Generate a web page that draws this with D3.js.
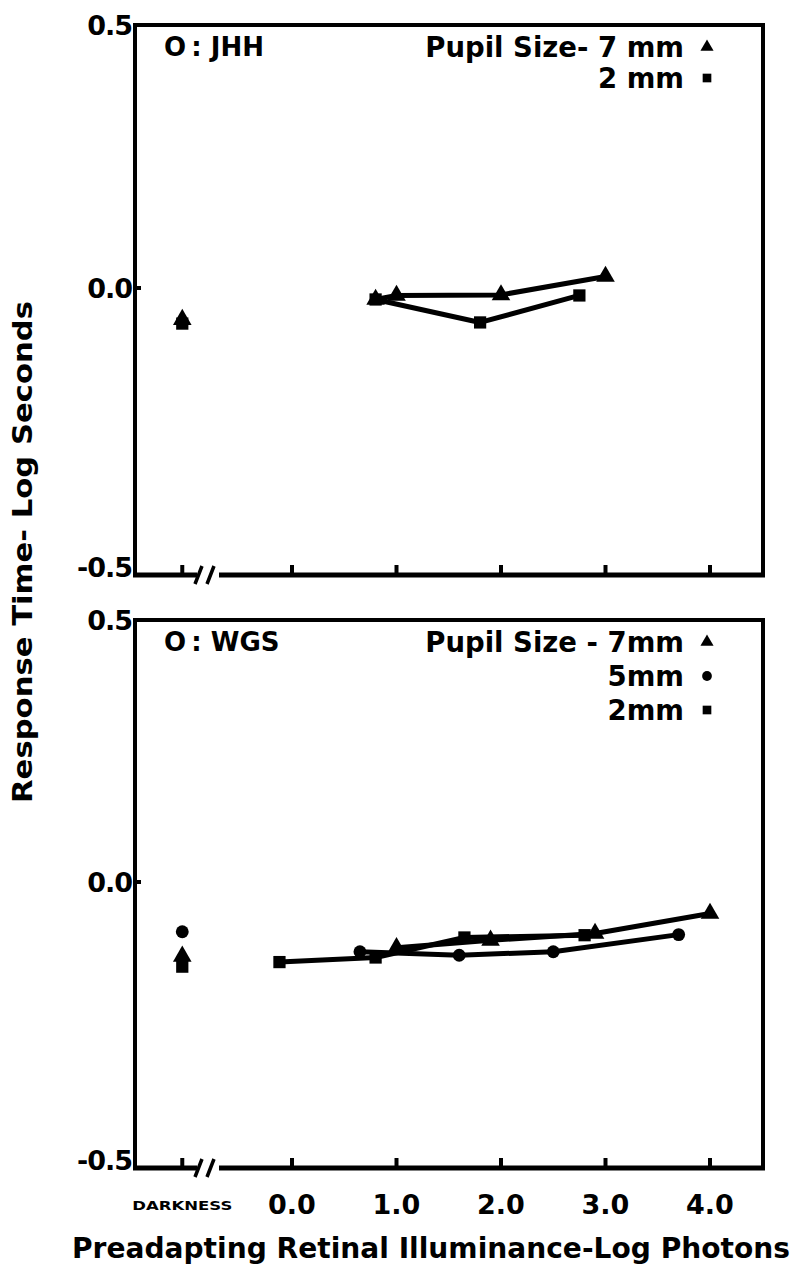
<!DOCTYPE html>
<html>
<head>
<meta charset="utf-8">
<script src="https://cdn.jsdelivr.net/npm/d3@7"></script>
<style>
  body { margin: 0; background: #fff; }
  text { font-family: "DejaVu Sans", sans-serif; font-weight: 700; fill: #000; }
</style>
</head>
<body>
<script>
// x values: log photons, darkness drawn left of the break
let darkness = -1.05;
let xTicks = [0, 1, 2, 3, 4];
let xTickLabels = ['0.0', '1.0', '2.0', '3.0', '4.0'];
let yTicks = [-0.5, 0, 0.5];
let yTickLabels = ['-0.5', '0.0', '0.5'];

// O: JHH
let jhh7x = [0.8, 1.0, 2.0, 3.0];
let jhh7y = [-0.02, -0.013, -0.012, 0.022];
let jhh7dark = -0.055;
let jhh2x = [0.8, 1.8, 2.75];
let jhh2y = [-0.02, -0.06, -0.013];
let jhh2dark = -0.062;

// O: WGS
let wgs7x = [1.0, 1.9, 2.9, 4.0];
let wgs7y = [-0.115, -0.102, -0.09, -0.055];
let wgs7dark = -0.13;
let wgs5x = [0.65, 1.6, 2.5, 3.7];
let wgs5y = [-0.122, -0.128, -0.122, -0.092];
let wgs5dark = -0.087;
let wgs2x = [-0.12, 0.8, 1.65, 2.8];
let wgs2y = [-0.14, -0.132, -0.097, -0.093];
let wgs2dark = -0.148;

let width = 795, height = 1268;
let left = 135, right = 763;

let svg = d3.select('body').append('svg')
    .attr('width', width)
    .attr('height', height);

let x = d3.scaleLinear().domain([0, 4]).range([292, 710]);

let panels = [
    {
        top: 25, zero: 288, bottom: 575, name: 'O\u2009: JHH',
        legend: [['Pupil Size- 7 mm', 'triangle'], ['2 mm', 'square']],
        series: [
            {xs: jhh7x, ys: jhh7y, dark: jhh7dark, shape: 'triangle'},
            {xs: jhh2x, ys: jhh2y, dark: jhh2dark, shape: 'square'}
        ]
    },
    {
        top: 620, zero: 882, bottom: 1168, name: 'O\u2009: WGS',
        legend: [['Pupil Size - 7mm', 'triangle'], ['5mm', 'circle'], ['2mm', 'square']],
        series: [
            {xs: wgs7x, ys: wgs7y, dark: wgs7dark, shape: 'triangle'},
            {xs: wgs5x, ys: wgs5y, dark: wgs5dark, shape: 'circle'},
            {xs: wgs2x, ys: wgs2y, dark: wgs2dark, shape: 'square'}
        ]
    }
];

let sizes = {triangle: 150, circle: 130, square: 150};
function sym(shape, size) {
    let t = {triangle: d3.symbolTriangle, circle: d3.symbolCircle, square: d3.symbolSquare}[shape];
    return d3.symbol().type(t).size(size)();
}

panels.forEach(p => {
    let y = d3.scaleLinear().domain([-0.5, 0, 0.5]).range([p.bottom, p.zero, p.top]);
    let g = svg.append('g');

    // frame: left, top, right
    g.append('path')
        .attr('d', `M${left},${p.bottom} V${p.top} H${right} V${p.bottom}`)
        .attr('fill', 'none').attr('stroke', '#000').attr('stroke-width', 4);

    // bottom axis with break
    g.append('path')
        .attr('d', `M${left - 2},${p.bottom} H${197} M${219},${p.bottom} H${right + 2}`)
        .attr('fill', 'none').attr('stroke', '#000').attr('stroke-width', 5);
    g.append('path')
        .attr('d', `M${195},${p.bottom + 9} L${202},${p.bottom - 9} M${207},${p.bottom + 9} L${214},${p.bottom - 9}`)
        .attr('fill', 'none').attr('stroke', '#000').attr('stroke-width', 3.5);

    // ticks
    g.selectAll('.xtick').data([darkness].concat(xTicks)).enter().append('line')
        .attr('x1', d => x(d)).attr('x2', d => x(d))
        .attr('y1', p.bottom).attr('y2', p.bottom - 10)
        .attr('stroke', '#000').attr('stroke-width', 4);
    g.append('line')
        .attr('x1', left).attr('x2', left + 6)
        .attr('y1', y(0)).attr('y2', y(0))
        .attr('stroke', '#000').attr('stroke-width', 4);

    // y tick labels
    g.selectAll('.ylab').data(yTicks).enter().append('text')
        .attr('x', left - 3)
        .attr('y', d => d === -0.5 ? y(d) - 8 : y(d))
        .attr('dy', '0.36em')
        .attr('text-anchor', 'end')
        .style('font-size', '27px')
        .style('letter-spacing', '-1px')
        .text((d, i) => yTickLabels[i]);

    // observer label
    g.append('text').attr('x', 164).attr('y', p.top + 31)
        .style('font-size', '26px').text(p.name);

    // legend
    p.legend.forEach((l, i) => {
        let ly = p.top + 22 + i * (p.legend.length > 2 ? 34 : 31);
        g.append('text').attr('x', 684).attr('y', ly).attr('dy', '0.36em')
            .attr('text-anchor', 'end')
            .style('font-size', '27.5px').text(l[0]);
        g.append('path').attr('d', sym(l[1], 75))
            .attr('transform', `translate(707,${ly})`);
    });

    // series
    let line = d3.line().x(d => x(d[0])).y(d => y(d[1]));
    p.series.forEach(s => {
        let pts = s.xs.map((v, i) => [v, s.ys[i]]);
        g.append('path').datum(pts)
            .attr('d', line)
            .attr('fill', 'none').attr('stroke', '#000')
            .attr('stroke-width', 5).attr('stroke-linejoin', 'round');
        g.selectAll(null).data(pts.concat([[darkness, s.dark]])).enter().append('path')
            .attr('d', sym(s.shape, sizes[s.shape]))
            .attr('transform', d => `translate(${x(d[0])},${y(d[1])})`);
    });
});

// x tick labels under lower panel
let bottom = panels[1].bottom;
svg.selectAll('.xlab').data(xTicks).enter().append('text')
    .attr('x', d => x(d)).attr('y', bottom + 46)
    .attr('text-anchor', 'middle')
    .style('font-size', '27px')
    .text((d, i) => xTickLabels[i]);
svg.append('text').attr('x', x(darkness)).attr('y', bottom + 42)
    .attr('text-anchor', 'middle')
    .attr('textLength', 100).attr('lengthAdjust', 'spacingAndGlyphs')
    .style('font-size', '13px').style('font-weight', 900)
    .text('DARKNESS');

// axis titles
svg.append('text').attr('x', 431).attr('y', 1258)
    .attr('text-anchor', 'middle')
    .attr('textLength', 718).attr('lengthAdjust', 'spacingAndGlyphs')
    .style('font-size', '28px')
    .text('Preadapting Retinal Illuminance-Log Photons');
svg.append('text')
    .attr('transform', 'translate(32,552) rotate(-90)')
    .attr('text-anchor', 'middle')
    .attr('textLength', 502).attr('lengthAdjust', 'spacingAndGlyphs')
    .style('font-size', '27px')
    .text('Response Time- Log Seconds');
</script>
</body>
</html>
